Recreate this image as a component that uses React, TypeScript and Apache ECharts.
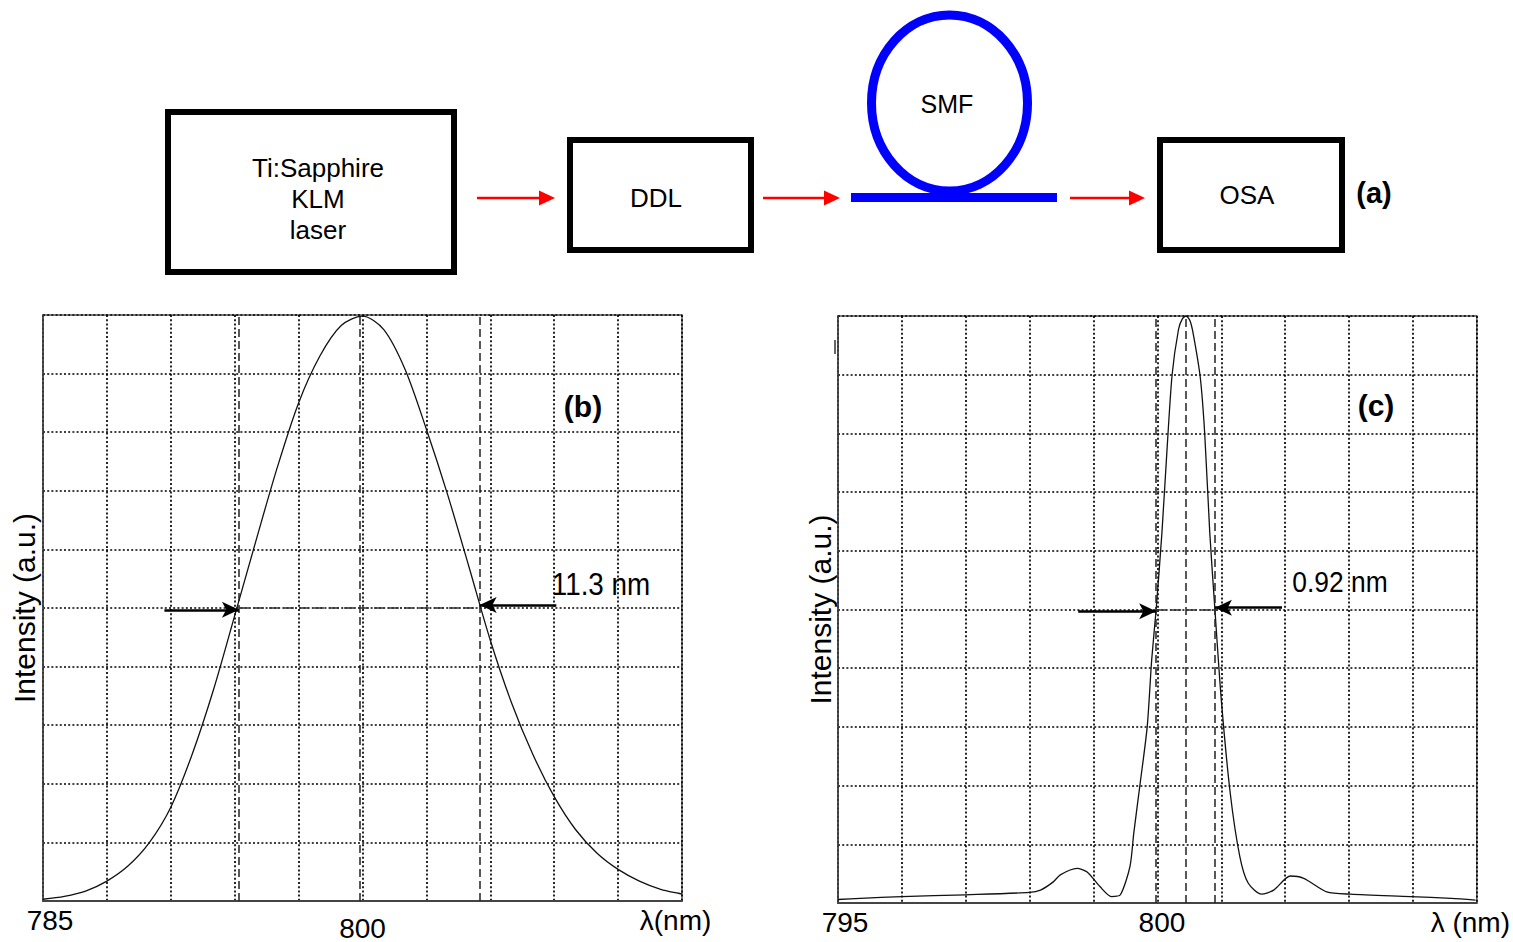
import React, { useEffect, useRef } from "react";
import * as echarts from "echarts";

// (b) spectrum of the Ti:Sapphire KLM laser output, 1 nm steps
const LAMBDA_B = [
  785, 786, 787, 788, 789, 790, 791, 792, 793, 794, 795, 796, 797, 798, 799, 800,
  801, 802, 803, 804, 805, 806, 807, 808, 809, 810, 811, 812, 813, 814, 815,
];
const INTENSITY_B = [
  0.03, 0.08, 0.17, 0.34, 0.6, 1.0, 1.6, 2.5, 3.6, 4.87, 6.15, 7.4, 8.5, 9.3, 9.82, 9.98,
  9.75, 9.07, 8.05, 6.93, 5.7, 4.45, 3.38, 2.5, 1.78, 1.22, 0.82, 0.54, 0.34, 0.2, 0.12,
];

// (c) spectrum after the SMF
const LAMBDA_C = [
  795.0, 795.35, 796.0, 797.0, 798.0, 798.17, 798.37, 798.48, 798.74, 798.9,
  799.1, 799.28, 799.42, 799.57, 799.63, 799.73, 799.84, 799.91, 799.98, 800.07,
  800.15, 800.23, 800.33, 800.39, 800.45, 800.51, 800.56, 800.67, 800.74, 800.82,
  800.9, 801.0, 801.14, 801.29, 801.42, 801.63, 801.82, 802.08, 802.29, 802.65,
  803.02, 803.96, 804.6, 804.98,
];
const INTENSITY_C = [
  0.06, 0.08, 0.11, 0.14, 0.18, 0.22, 0.36, 0.48, 0.59, 0.53,
  0.28, 0.11, 0.14, 0.62, 1.19, 2.04, 3.0, 4.14, 5.0, 6.3,
  7.72, 9.0, 9.77, 9.95, 10.0, 9.92, 9.7, 8.96, 8.0, 6.3,
  5.0, 3.46, 1.87, 0.79, 0.34, 0.15, 0.22, 0.46, 0.42, 0.19,
  0.15, 0.11, 0.08, 0.05,
];

// FWHM annotations
const FWHM_B = 11.3;
const CENTER_B = 799.85;
const FWHM_C = 0.92;
const CENTER_C = 800.44;
const HALF_LEVEL = 5;
const ARROW_TAIL_B = [790.7, 809.1];
const ARROW_TAIL_C = [798.76, 801.95];

// axis ranges and tick labels
const X_RANGE_B = [785, 815, 3];
const X_RANGE_C = [795, 805, 1];
const Y_RANGE = [0, 10, 1];
const X_LABELS_B: Record<number, string> = { 785: "{l|785}", 800: "{d|800}", 815: "{r|λ(nm)}" };
const X_LABELS_C: Record<number, string> = { 795: "{l|795}", 800: "{m|800}", 805: "{r|λ (nm)}" };

const FONT = "'Liberation Sans', Arial, Helvetica, sans-serif";

const zip = (xs: number[], ys: number[]) => xs.map((x, i) => [x, ys[i]]);

const dottedGrid = { show: true, lineStyle: { color: "#000", width: 1.7, type: [2, 2.2] as number[] } };

function xAxis(gridIndex: number, range: number[], labels: Record<number, string>) {
  return {
    type: "value",
    gridIndex,
    min: range[0],
    max: range[1],
    interval: range[2],
    axisLine: { show: true, lineStyle: { color: "#444", width: 2 } },
    axisTick: { show: false },
    splitLine: dottedGrid,
    axisLabel: {
      margin: 5,
      color: "#000",
      fontFamily: FONT,
      fontSize: 28,
      showMinLabel: true,
      showMaxLabel: true,
      formatter: (v: number) => labels[Math.round(v * 1000) / 1000] ?? "",
      rich: {
        l: { fontSize: 28, fontFamily: FONT, color: "#000", padding: [0, 0, 0, 14] },
        d: { fontSize: 28, fontFamily: FONT, color: "#000", padding: [8, 0, 0, 0] },
        m: { fontSize: 28, fontFamily: FONT, color: "#000", padding: [0, 0, 0, 9] },
        r: { fontSize: 28, fontFamily: FONT, color: "#000", padding: [0, 13, 0, 0] },
      },
    },
  };
}

function yAxis(gridIndex: number, nameGap: number) {
  return {
    type: "value",
    gridIndex,
    min: Y_RANGE[0],
    max: Y_RANGE[1],
    interval: Y_RANGE[2],
    name: "Intensity (a.u.)",
    nameLocation: "middle",
    nameRotate: 90,
    nameGap,
    nameTextStyle: { color: "#000", fontFamily: FONT, fontSize: 30 },
    axisLine: { show: true, lineStyle: { color: "#444", width: 1.5 } },
    axisTick: { show: false },
    axisLabel: { show: false },
    splitLine: dottedGrid,
  };
}

function fwhmSeries(idx: number, center: number, fwhm: number, tails: number[], rightLift: number) {
  const lo = center - fwhm / 2;
  const hi = center + fwhm / 2;
  const dashed = { color: "#222", width: 1.5, type: [8, 4] as number[] };
  const arrowStyle = { color: "#000", width: 2.5, type: "solid" };
  return [
    {
      type: "line",
      xAxisIndex: idx,
      yAxisIndex: idx,
      data: [],
      silent: true,
      markLine: {
        silent: true,
        symbol: ["none", "none"],
        label: { show: false },
        lineStyle: dashed,
        data: [
          [{ coord: [lo, Y_RANGE[0]] }, { coord: [lo, Y_RANGE[1]] }],
          [{ coord: [center, Y_RANGE[0]] }, { coord: [center, Y_RANGE[1]] }],
          [{ coord: [hi, Y_RANGE[0]] }, { coord: [hi, Y_RANGE[1]] }],
          [
            { coord: [lo, HALF_LEVEL], lineStyle: { color: "#333", width: 1.5, type: [10, 5] } },
            { coord: [hi, HALF_LEVEL] },
          ],
        ],
      },
    },
    {
      type: "line",
      xAxisIndex: idx,
      yAxisIndex: idx,
      data: [],
      silent: true,
      markLine: {
        silent: true,
        symbol: ["none", "arrow"],
        symbolSize: [12, 17],
        label: { show: false },
        lineStyle: arrowStyle,
        data: [
          [{ coord: [tails[0], HALF_LEVEL - 0.03] }, { coord: [lo, HALF_LEVEL - 0.03] }],
          [{ coord: [tails[1], HALF_LEVEL + rightLift] }, { coord: [hi, HALF_LEVEL + rightLift] }],
        ],
      },
    },
  ];
}

function curve(idx: number, data: number[][], smooth: number) {
  return {
    type: "line",
    xAxisIndex: idx,
    yAxisIndex: idx,
    data,
    showSymbol: false,
    symbol: "none",
    smooth,
    lineStyle: { color: "#111", width: 1.3 },
    silent: true,
    z: 3,
  };
}

// block diagram (a) helpers
const box = (x: number, y: number, w: number, h: number) => ({
  type: "rect",
  shape: { x, y, width: w, height: h },
  style: { fill: "#fff", stroke: "#000", lineWidth: 6 },
});
const redArrow = (x0: number, tip: number, y: number) => [
  { type: "line", shape: { x1: x0, y1: y, x2: tip - 14, y2: y }, style: { stroke: "#ff0000", lineWidth: 2.5 } },
  {
    type: "polygon",
    shape: { points: [[tip - 16, y - 7.5], [tip, y], [tip - 16, y + 7.5]] },
    style: { fill: "#ff0000" },
  },
];
const label = (text: string, x: number, y: number, size: number, bold = false, scaleX = 1) => ({
  type: "text",
  x,
  y,
  scaleX,
  style: {
    text,
    fill: "#000",
    font: `${bold ? "bold " : ""}${size}px ${FONT}`,
    align: "center",
    verticalAlign: "middle",
  },
  z: 10,
});

const option = {
  animation: false,
  backgroundColor: "#fff",
  grid: [
    { left: 43, top: 315, width: 639, height: 590, show: true, borderColor: "#555", borderWidth: 1.5, containLabel: false },
    { left: 838, top: 316, width: 639, height: 587, show: true, borderColor: "#555", borderWidth: 1.5, containLabel: false },
  ],
  xAxis: [xAxis(0, X_RANGE_B, X_LABELS_B), xAxis(1, X_RANGE_C, X_LABELS_C)],
  yAxis: [yAxis(0, 4), yAxis(1, 3)],
  series: [
    curve(0, zip(LAMBDA_B, INTENSITY_B), 0.3),
    ...fwhmSeries(0, CENTER_B, FWHM_B, ARROW_TAIL_B, 0.05),
    curve(1, zip(LAMBDA_C, INTENSITY_C), 0.25),
    ...fwhmSeries(1, CENTER_C, FWHM_C, ARROW_TAIL_C, 0.03),
  ],
  graphic: [
    box(168, 112, 286, 160),
    box(570, 140, 181, 110),
    box(1160, 140, 182, 110),
    ...redArrow(477, 555, 198),
    ...redArrow(763, 840, 198),
    ...redArrow(1070, 1145, 198),
    {
      type: "ellipse",
      shape: { cx: 949.5, cy: 103, rx: 78, ry: 88 },
      style: { fill: "none", stroke: "#0000ff", lineWidth: 9 },
    },
    { type: "rect", shape: { x: 851, y: 193, width: 206, height: 9 }, style: { fill: "#0000ff" } },
    label("Ti:Sapphire", 318, 168, 26),
    label("KLM", 318, 199, 26),
    label("laser", 318, 230, 26),
    label("DDL", 656, 198, 26),
    label("SMF", 947, 104, 25),
    label("OSA", 1247, 195, 26),
    label("(a)", 1374, 193, 29, true),
    label("(b)", 583, 406, 30, true),
    label("(c)", 1376, 405, 30, true),
    label("11.3 nm", 601, 584, 32, false, 0.87),
    label("0.92 nm", 1340, 581, 30, false, 0.88),
    { type: "line", shape: { x1: 835, y1: 340, x2: 835, y2: 354 }, style: { stroke: "#333", lineWidth: 1.5 } },
  ],
};

export default function App() {
  const ref = useRef<HTMLDivElement>(null);
  useEffect(() => {
    document.body.style.margin = "0";
    const chart = echarts.init(ref.current!, null, { renderer: "svg" });
    chart.setOption(option as any);
    return () => chart.dispose();
  }, []);
  return <div ref={ref} style={{ width: 1513, height: 942, background: "#fff" }} />;
}
